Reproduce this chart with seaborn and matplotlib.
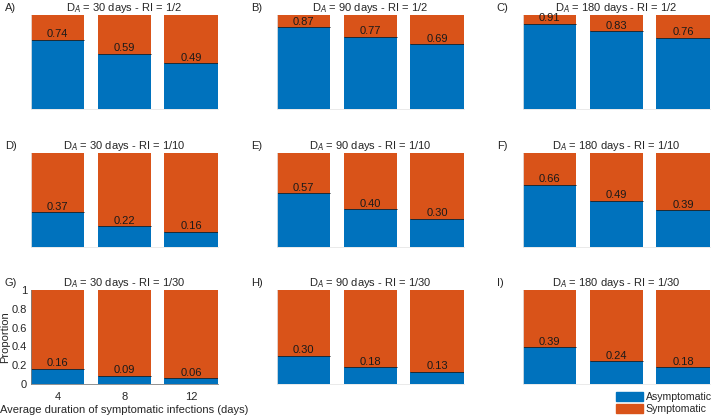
import numpy as np
import pandas as pd
import matplotlib.pyplot as plt
import seaborn as sns

# Average duration of symptomatic infections (days)
durations = ['4', '8', '12']

# asymptomatic proportion per panel (rows: RI = 1/2, 1/10, 1/30; cols: D_A = 30, 90, 180)
panel_letters = ['A', 'B', 'C', 'D', 'E', 'F', 'G', 'H', 'I']
da_values = [30, 90, 180]
ri_values = ['1/2', '1/10', '1/30']
asym_A = [0.74, 0.59, 0.49]
asym_B = [0.87, 0.77, 0.69]
asym_C = [0.91, 0.83, 0.76]
asym_D = [0.37, 0.22, 0.16]
asym_E = [0.57, 0.40, 0.30]
asym_F = [0.66, 0.49, 0.39]
asym_G = [0.16, 0.09, 0.06]
asym_H = [0.30, 0.18, 0.13]
asym_I = [0.39, 0.24, 0.18]
asym_all = [asym_A, asym_B, asym_C, asym_D, asym_E, asym_F, asym_G, asym_H, asym_I]

blue = '#0072BD'
orange = '#D95319'

sns.set_style('white')
plt.rcParams['font.family'] = ['Liberation Sans', 'DejaVu Sans']
plt.rcParams['font.size'] = 8

fig = plt.figure(figsize=(7.13, 4.15), dpi=100)

lefts = [0.0435, 0.3885, 0.7335]
bottoms = [0.737, 0.405, 0.0747]
w, h = 0.262, 0.2265

for i in range(9):
    r, c = divmod(i, 3)
    ax = fig.add_axes([lefts[c], bottoms[r], w, h])
    asym = asym_all[i]
    df = pd.DataFrame({'duration': durations,
                       'total': [1.0] * len(durations),
                       'asym': asym})
    sns.barplot(data=df, x='duration', y='total', color=orange, saturation=1,
                width=0.8, linewidth=0, ax=ax)
    sns.barplot(data=df, x='duration', y='asym', color=blue, saturation=1,
                width=0.8, linewidth=0, ax=ax)
    xs = np.arange(len(durations))
    ax.hlines(asym, xs - 0.4, xs + 0.4, color='#1f2a33', lw=0.7)
    for x, v in zip(xs, asym):
        ax.text(x, v + 0.005, f'{v:.2f}', ha='center', va='bottom', fontsize=8,
                color='#1a1a1a')
    ax.set_xlim(-0.4, 2.4)
    ax.set_ylim(0, 1)
    ax.set_title(f'D$_A$ = {da_values[c]} days - RI = {ri_values[r]}',
                 fontsize=8, pad=3)
    ax.text(-0.14, 1.02, f'{panel_letters[i]})', transform=ax.transAxes,
            fontsize=8, va='bottom', ha='left')
    for s in ['top', 'right']:
        ax.spines[s].set_visible(False)
    if i == 6:
        ax.set_yticks([0, 0.2, 0.4, 0.6, 0.8, 1])
        ax.set_yticklabels(['0', '0.2', '0.4', '0.6', '0.8', '1'])
        ax.set_ylabel('Proportion', fontsize=8, labelpad=1)
        ax.set_xlabel('Average duration of symptomatic infections (days)',
                      fontsize=8, labelpad=2)
        for s in ['left', 'bottom']:
            ax.spines[s].set_color('#7f7f7f')
            ax.spines[s].set_linewidth(0.6)
        ax.tick_params(axis='y', direction='in', length=2, width=0.5,
                       color='#7f7f7f', labelsize=8, pad=3)
        ax.tick_params(axis='x', direction='in', length=2, width=0.5,
                       color='#7f7f7f', labelsize=8, pad=6)
    else:
        ax.set_xlabel('')
        ax.set_ylabel('')
        ax.set_yticks([0, 0.2, 0.4, 0.6, 0.8, 1])
        ax.set_xticklabels([])
        ax.set_yticklabels([])
        for s in ['left', 'bottom']:
            ax.spines[s].set_color('#e6e6e6')
            ax.spines[s].set_linewidth(0.6)
        ax.tick_params(direction='in', length=2, width=0.5, color='#e0e0e0')

handles = [plt.Rectangle((0, 0), 1, 1, color=blue),
           plt.Rectangle((0, 0), 1, 1, color=orange)]
fig.legend(handles, ['Asymptomatic', 'Symptomatic'], loc='lower right',
           bbox_to_anchor=(1.0, 0.0), frameon=False, fontsize=7.6,
           handlelength=2.5, handleheight=0.95, labelspacing=0.12,
           handletextpad=0.3, borderpad=0.05, borderaxespad=0.05)

fig.savefig('out.png', dpi=100)
